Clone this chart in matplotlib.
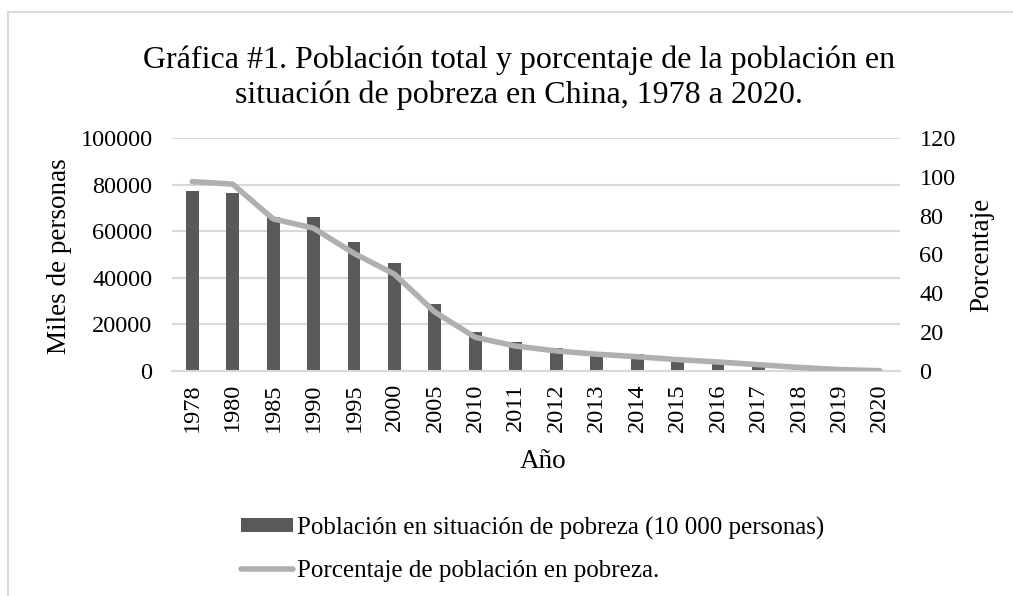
import matplotlib.pyplot as plt
from matplotlib.patches import Rectangle
import numpy as np

years = ["1978", "1980", "1985", "1990", "1995", "2000", "2005", "2010", "2011",
         "2012", "2013", "2014", "2015", "2016", "2017", "2018", "2019", "2020"]
poor_pop = [77039, 76542, 66101, 65849, 55463, 46224, 28662, 16567, 12238,
            9899, 8249, 7017, 5575, 4335, 3046, 1660, 551, 0]
poor_pct = [97.5, 96.2, 78.3, 73.5, 60.5, 49.8, 30.2, 17.2, 12.7,
            10.2, 8.5, 7.2, 5.7, 4.5, 3.1, 1.7, 0.6, 0.0]

BAR_COLOR = "#595959"
LINE_COLOR = "#b0b0b0"
GRID_COLOR = "#d9d9d9"
FONT = "Liberation Serif"

plt.rcParams["font.family"] = FONT

W, H = 1013, 596
fig = plt.figure(figsize=(W / 100, H / 100), dpi=100)

# chart area border (only top and left visible)
fig.patches.append(Rectangle((8 / W, -0.1), 1.2, (H - 12) / H + 0.1,
                             transform=fig.transFigure, fill=False,
                             edgecolor=GRID_COLOR, linewidth=1.5))

ax = fig.add_axes([172 / W, 1 - 370.7 / H, 728 / W, (370.7 - 138) / H])
x = np.arange(len(years))
bars = ax.bar(x, poor_pop, width=0.32, color=BAR_COLOR, zorder=2,
              label="Población en situación de pobreza (10 000 personas)")
ax.set_xlim(-0.5, len(years) - 0.5)
ax.set_ylim(0, 100000)
ax.set_yticks(np.arange(0, 100001, 20000))
ax.grid(axis="y", color=GRID_COLOR, linewidth=1.5, zorder=0)
ax.set_xticks(x)
ax.set_xticklabels(years, rotation=90)
for s in ["top", "right", "left"]:
    ax.spines[s].set_visible(False)
ax.spines["bottom"].set_color(GRID_COLOR)
ax.spines["bottom"].set_linewidth(1.5)
ax.tick_params(axis="both", length=0, labelsize=17.5)
ax.tick_params(axis="y", pad=14)
ax.tick_params(axis="x", pad=9)

ax2 = ax.twinx()
line, = ax2.plot(x, poor_pct, color=LINE_COLOR, linewidth=4,
                 solid_capstyle="round", zorder=3,
                 label="Porcentaje de población en pobreza.")
ax2.set_ylim(0, 120)
ax2.set_yticks(np.arange(0, 121, 20))
for s in ax2.spines.values():
    s.set_visible(False)
ax2.tick_params(axis="y", length=0, labelsize=17.5, pad=14)

fig.text(519 / W, 1 - 78 / H,
         "Gráfica #1. Población total y porcentaje de la población en\n"
         "situación de pobreza en China, 1978 a 2020.",
         ha="center", va="center", fontsize=23, linespacing=1.25)
fig.text(59 / W, 1 - 256 / H, "Miles de personas", rotation=90,
         ha="center", va="center", fontsize=19.5)
fig.text(982 / W, 1 - 255 / H, "Porcentaje", rotation=90,
         ha="center", va="center", fontsize=19.5)
fig.text(543 / W, 1 - 462 / H, "Año", ha="center", va="center", fontsize=19.5)

fig.legend(handles=[bars, line], loc="upper left",
           bbox_to_anchor=(218 / W, 1 - 494 / H), frameon=False,
           fontsize=18, handlelength=2.1, handletextpad=0.15,
           labelspacing=0.8, handleheight=0.5)

fig.savefig("out.png", dpi=100)
